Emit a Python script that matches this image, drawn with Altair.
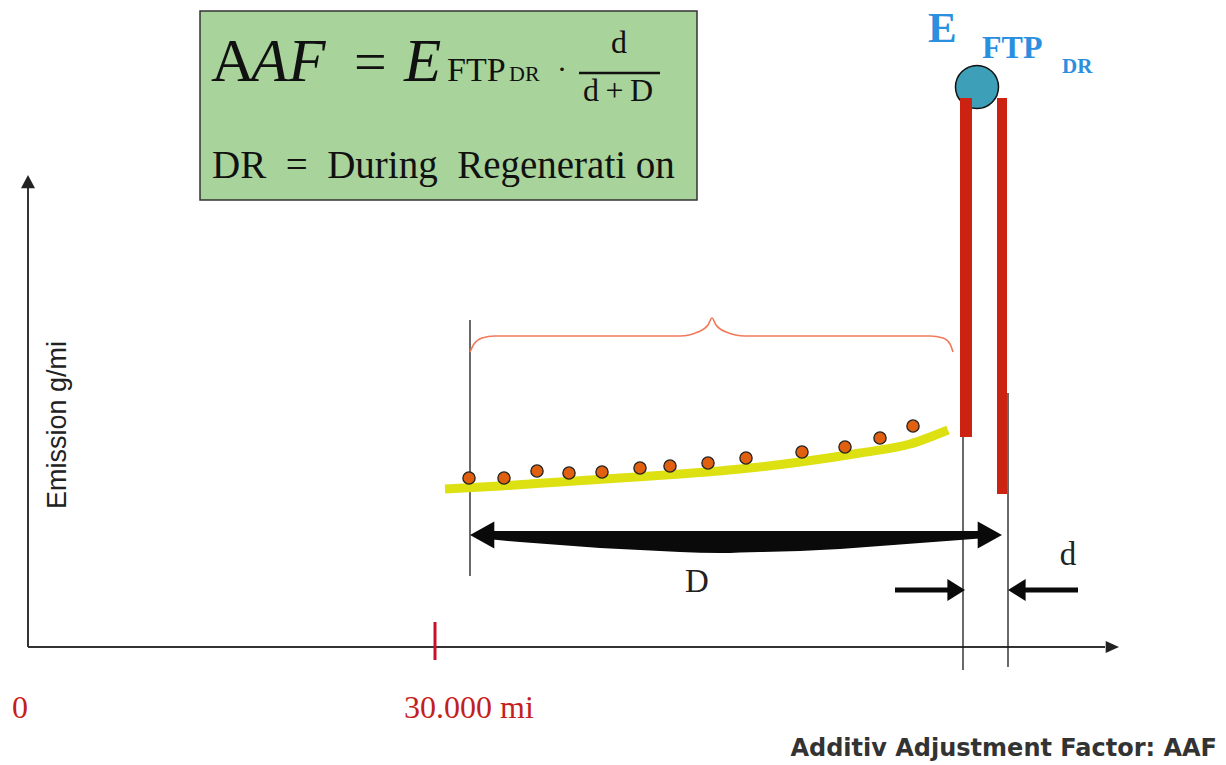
import altair as alt
import pandas as pd

# ---- schematic data (diagram units) ----
dot_x = [469, 504, 537, 569, 602, 640, 670, 708, 746, 802, 845, 880, 913]
dot_y = [478, 478, 471, 473, 472, 468, 466, 463, 458, 452, 447, 438, 426]

trend_x = [445, 500, 560, 620, 680, 740, 800, 860, 910, 948]
trend_y = [489, 486, 482, 478, 474, 469, 462, 453, 444, 430]

brace_x = [470, 474, 482, 495, 680, 698, 708, 712, 716, 726, 745, 930, 943, 950, 953]
brace_y = [352, 344, 338, 336, 336, 332, 325, 318, 325, 332, 336, 336, 338, 344, 352]

lens_x = [486, 520, 560, 600, 640, 680, 720, 760, 800, 840, 880, 920, 960, 986]
lens_top = [531, 531, 531, 531, 531, 531, 531, 531, 531, 531, 531, 531, 531, 531]
lens_bot = [539, 542, 545, 548, 550, 552, 553, 552, 551, 549, 546, 543, 540, 538]

W, H = 1210, 749
OFF = 8
xs = alt.Scale(domain=[8, 8 + W], nice=False, zero=False)
ys = alt.Scale(domain=[OFF, OFF + H], nice=False, zero=False, reverse=True)


def X(f="x"):
    return alt.X(f"{f}:Q", scale=xs, axis=None)


def Y(f="y"):
    return alt.Y(f"{f}:Q", scale=ys, axis=None)


layers = []

# green formula box
box = pd.DataFrame({"x": [200], "x2": [697], "y": [11], "y2": [200]})
layers.append(alt.Chart(box).mark_rect(fill="#a8d39a", stroke="#333333", strokeWidth=1.5).encode(
    x=X(), x2="x2:Q", y=Y(), y2="y2:Q"))


def txt(items, **kw):
    df = pd.DataFrame(items, columns=["x", "y", "t"])
    return alt.Chart(df).mark_text(**kw).encode(x=X(), y=Y(), text="t:N")


serif = "Liberation Serif"
NB = "\u00a0"
TH = "\u2009"
layers.append(txt([(211, 81, "A")], font=serif, fontSize=61, align="left", baseline="alphabetic", color="#111"))
layers.append(txt([(251, 81, "AF")], font=serif, fontSize=61, fontStyle="italic", align="left", baseline="alphabetic", color="#111"))
layers.append(txt([(354, 81, "=")], font=serif, fontSize=58, align="left", baseline="alphabetic", color="#111"))
layers.append(txt([(404, 81, "E")], font=serif, fontSize=61, fontStyle="italic", align="left", baseline="alphabetic", color="#111"))
layers.append(txt([(447, 81, "FTP")], font=serif, fontSize=34, align="left", baseline="alphabetic", color="#111"))
layers.append(txt([(509, 81, "DR")], font=serif, fontSize=22, align="left", baseline="alphabetic", color="#111"))
layers.append(txt([(562, 79, "·")], font=serif, fontSize=30, align="center", baseline="alphabetic", color="#111"))
layers.append(txt([(619, 53, "d"), (618, 101, "d" + TH + "+" + TH + "D")], font=serif, fontSize=32, align="center", baseline="alphabetic", color="#111"))
frac = pd.DataFrame({"x": [579], "x2": [660], "y": [73]})
layers.append(alt.Chart(frac).mark_rule(strokeWidth=2.5, color="#111").encode(x=X(), x2="x2:Q", y=Y()))
layers.append(txt([(212, 178, "DR" + NB + " =" + NB + " During" + NB + " Regenerati on")], font=serif, fontSize=39, align="left", baseline="alphabetic", color="#111"))

# axes
axes = pd.DataFrame({"x": [28, 28], "y": [647, 647], "x2": [28, 1105], "y2": [188, 647]})
layers.append(alt.Chart(axes).mark_rule(strokeWidth=2, color="#333").encode(x=X(), y=Y(), x2="x2:Q", y2="y2:Q"))
up = pd.DataFrame({"x": [28], "y": [175]})
layers.append(alt.Chart(up).mark_point(shape="M0,0L-1,1.9L1,1.9Z", size=196, filled=True, opacity=1, color="#222", strokeWidth=0).encode(x=X(), y=Y()))
right = pd.DataFrame({"x": [1119], "y": [647]})
layers.append(alt.Chart(right).mark_point(shape="M0,0L-1.9,-0.85L-1.9,0.85Z", size=196, filled=True, opacity=1, color="#222", strokeWidth=0).encode(x=X(), y=Y()))

layers.append(txt([(66, 425, "Emission g/mi")], font="Liberation Sans", fontSize=27, angle=270, align="center", baseline="alphabetic", color="#222"))

# red tick and mileage labels
tick = pd.DataFrame({"x": [435], "y": [622], "y2": [660]})
layers.append(alt.Chart(tick).mark_rule(strokeWidth=3, color="#c8102e").encode(x=X(), y=Y(), y2="y2:Q"))
layers.append(txt([(12, 718, "0"), (404, 718, "30.000 mi")], font=serif, fontSize=32, align="left", baseline="alphabetic", color="#c41e1e"))

# thin vertical markers
vl = pd.DataFrame({"x": [470, 963, 1008], "y": [320, 395, 393], "y2": [576, 670, 667]})
layers.append(alt.Chart(vl).mark_rule(strokeWidth=1.3, color="#1a1a1a").encode(x=X(), y=Y(), y2="y2:Q"))

# brace
br = pd.DataFrame({"x": brace_x, "y": brace_y})
layers.append(alt.Chart(br).mark_line(color="#f07a5a", strokeWidth=1.6, interpolate="monotone").encode(x=X(), y=Y()))

# yellow trend
tr = pd.DataFrame({"x": trend_x, "y": trend_y})
layers.append(alt.Chart(tr).mark_line(color="#dde011", strokeWidth=9, interpolate="monotone").encode(x=X(), y=Y()))

# orange dots
dots = pd.DataFrame({"x": dot_x, "y": dot_y})
layers.append(alt.Chart(dots).mark_point(shape="circle", size=150, filled=True, opacity=1, fill="#e0600f", stroke="#222", strokeWidth=1.3).encode(x=X(), y=Y()))

# big D arrow (lens)
lens = pd.DataFrame({"x": lens_x, "y": lens_top, "y2": lens_bot})
layers.append(alt.Chart(lens).mark_area(color="#0a0a0a", interpolate="monotone").encode(x=X(), y=Y(), y2="y2:Q"))
dl = pd.DataFrame({"x": [470], "y": [535]})
layers.append(alt.Chart(dl).mark_point(shape="M0,0L1.8,-1L1.8,1Z", size=729, filled=True, opacity=1, color="#0a0a0a", strokeWidth=0).encode(x=X(), y=Y()))
dr = pd.DataFrame({"x": [1002], "y": [535]})
layers.append(alt.Chart(dr).mark_point(shape="M0,0L-1.8,-1L-1.8,1Z", size=729, filled=True, opacity=1, color="#0a0a0a", strokeWidth=0).encode(x=X(), y=Y()))
layers.append(txt([(697, 592, "D"), (1068, 565, "d")], font=serif, fontSize=33, align="center", baseline="alphabetic", color="#222"))

# small d arrows
sa = pd.DataFrame({"x": [895, 1078], "x2": [952, 1022], "y": [590, 590]})
layers.append(alt.Chart(sa).mark_rule(strokeWidth=5, color="#0a0a0a").encode(x=X(), x2="x2:Q", y=Y()))
sr = pd.DataFrame({"x": [965], "y": [590]})
layers.append(alt.Chart(sr).mark_point(shape="M0,0L-1.6,-1L-1.6,1Z", size=484, filled=True, opacity=1, color="#0a0a0a", strokeWidth=0).encode(x=X(), y=Y()))
sl = pd.DataFrame({"x": [1008], "y": [590]})
layers.append(alt.Chart(sl).mark_point(shape="M0,0L1.6,-1L1.6,1Z", size=484, filled=True, opacity=1, color="#0a0a0a", strokeWidth=0).encode(x=X(), y=Y()))

# regeneration peak: circle + red bars
circ = pd.DataFrame({"x": [977], "y": [87]})
layers.append(alt.Chart(circ).mark_point(shape="circle", size=1850, filled=True, opacity=1, fill="#3d9fb8", stroke="#111", strokeWidth=1.5).encode(x=X(), y=Y()))
bars = pd.DataFrame({"x": [960, 997], "x2": [972, 1007], "y": [98, 98], "y2": [437, 494]})
layers.append(alt.Chart(bars).mark_rect(color="#cc2211").encode(x=X(), x2="x2:Q", y=Y(), y2="y2:Q"))

layers.append(txt([(928, 42, "E")], font=serif, fontSize=43, fontWeight="bold", align="left", baseline="alphabetic", color="#2b8fe0"))
layers.append(txt([(982, 58, "FTP")], font=serif, fontSize=32, fontWeight="bold", align="left", baseline="alphabetic", color="#2b8fe0"))
layers.append(txt([(1062, 73, "DR")], font=serif, fontSize=21, fontWeight="bold", align="left", baseline="alphabetic", color="#2b8fe0"))

layers.append(txt([(1217, 756, "Additiv Adjustment Factor: AAF")], font="DejaVu Sans", fontSize=24, fontWeight="bold", align="right", baseline="alphabetic", color="#333"))

chart = alt.layer(*layers).properties(width=W, height=H, padding=0, background="white").configure_view(stroke=None)
chart.save("out.html", embed_options={"renderer": "svg", "actions": False})
